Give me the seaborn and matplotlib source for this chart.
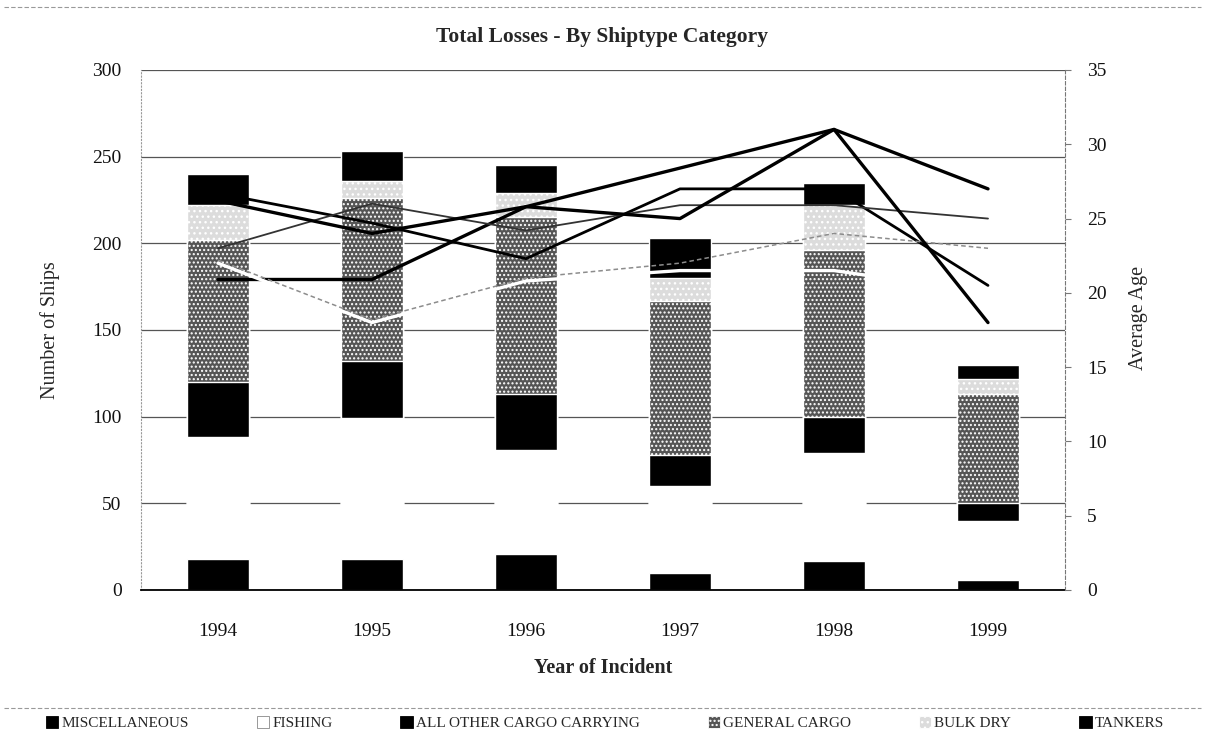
import numpy as np
import matplotlib
matplotlib.use("Agg")
import matplotlib.pyplot as plt
from matplotlib.patches import Patch
from matplotlib.lines import Line2D
import seaborn as sns

# ---------------- data ----------------
years = ["1994", "1995", "1996", "1997", "1998", "1999"]
categories = ["MISCELLANEOUS", "FISHING", "ALL OTHER CARGO CARRYING",
              "GENERAL CARGO", "BULK DRY", "TANKERS"]

# number of ships lost (stacked, bottom -> top)
misc = [18, 18, 21, 10, 17, 6]
fishing = [70, 81, 60, 50, 62, 34]
other_cargo = [32, 33, 32, 18, 21, 10]
general_cargo = [82, 94, 102, 89, 96, 63]
bulk_dry = [20, 10, 14, 13, 26, 9]
tankers = [18, 17, 16, 23, 13, 8]

# average age (right axis)
age_misc = [20.9, 20.9, 25.8, 28.4, 31.0, 27.0]
age_fishing = [22.0, 18.0, 20.8, 21.5, 21.5, 20.0]
age_other = [26.7, 24.7, 22.3, 27.0, 27.0, 20.5]
age_general = [23.0, 26.0, 24.2, 25.9, 25.9, 25.0]
age_bulk = [22.2, 18.2, 21.0, 22.0, 24.0, 23.0]
age_tankers = [26.2, 24.0, 25.8, 25.0, 31.0, 18.0]

left_ticks = [0, 50, 100, 150, 200, 250, 300]
right_ticks = [0, 5, 10, 15, 20, 25, 30, 35]

# ---------------- styles ----------------
layers = [misc, fishing, other_cargo, general_cargo, bulk_dry, tankers]
face = ["#000000", "#ffffff", "#000000", "#555555", "#dcdcdc", "#000000"]
hatch = [None, None, None, "....", "...", None]

ages = [age_misc, age_fishing, age_other, age_general, age_bulk, age_tankers]
line_color = ["#000000", "#ffffff", "#000000", "#333333", "#8c8c8c", "#000000"]
line_width = [2.4, 2.4, 2.0, 1.3, 1.1, 2.4]
line_style = ["-", "-", "-", "-", (0, (3, 2)), "-"]

sns.set_theme(style="white")
plt.rcParams["font.family"] = ["Liberation Serif", "DejaVu Serif"]
plt.rcParams["hatch.linewidth"] = 1.0

W, H = 1205, 740
fig = plt.figure(figsize=(W / 100, H / 100), dpi=100)
ax = fig.add_axes([141 / W, 1 - 590 / H, (1065 - 141) / W, 520 / H])

cum = np.cumsum(np.array(layers, dtype=float), axis=0)
for i in range(len(layers) - 1, -1, -1):
    sns.barplot(x=years, y=cum[i], color=face[i], saturation=1, width=0.40,
                edgecolor="white", linewidth=1.0, hatch=hatch[i],
                ax=ax, zorder=2 + (len(layers) - i) * 0.01)

ax.set_xlim(-0.5, len(years) - 0.5)
ax.set_ylim(0, 300)
ax.set_yticks(left_ticks)
ax.set_axisbelow(True)
ax.yaxis.grid(True, color="#555555", linewidth=0.9)
ax.xaxis.grid(False)
ax.set_xlabel("")
ax.set_ylabel("")
ax.tick_params(axis="y", length=0, pad=14, labelsize=14, colors="#111111")
ax.tick_params(axis="x", length=0, pad=24, labelsize=14, colors="#111111")
for s in ["top", "right"]:
    ax.spines[s].set_visible(False)
ax.spines["left"].set_color("#999999")
ax.spines["left"].set_linestyle((0, (1, 2)))
ax.spines["left"].set_linewidth(0.8)
ax.spines["bottom"].set_color("#000000")
ax.spines["bottom"].set_linewidth(1.3)

# right axis with average age lines
ax2 = ax.twinx()
xpos = np.arange(len(years))
for i in range(len(ages)):
    sns.lineplot(x=xpos, y=ages[i], ax=ax2, color=line_color[i],
                 linewidth=line_width[i], linestyle=line_style[i], legend=False)
ax2.set_ylim(0, 35)
ax2.set_yticks(right_ticks)
ax2.set_xlim(-0.5, len(years) - 0.5)
ax2.set_ylabel("")
ax2.tick_params(axis="y", length=4, width=0.8, color="#777777", pad=12,
                labelsize=14, labelcolor="#111111", right=True)
for s in ["top", "left", "bottom"]:
    ax2.spines[s].set_visible(False)
ax2.spines["right"].set_color("#777777")
ax2.spines["right"].set_linestyle((0, (3, 2)))
ax2.spines["right"].set_linewidth(0.8)

# texts
fig.text(0.5, 1 - 37 / H, "Total Losses - By Shiptype Category",
         ha="center", va="center", fontsize=15.5, fontweight="bold")
fig.text(603 / W, 1 - 668 / H, "Year of Incident", ha="center", va="center",
         fontsize=14.5, fontweight="bold")
fig.text(50 / W, 1 - 330 / H, "Number of Ships", ha="center", va="center",
         rotation=90, fontsize=14.5)
fig.text(1138 / W, 1 - 318 / H, "Average Age", ha="center", va="center",
         rotation=90, fontsize=14.5)

# legend
handles = [Patch(facecolor=face[i], edgecolor="#888888" if i == 1 else
                 ("white" if hatch[i] else face[i]), hatch=hatch[i], linewidth=0.6)
           for i in range(len(categories))]
fig.legend(handles, categories, loc="center",
           bbox_to_anchor=(40 / W, 1 - 736 / H, 1130 / W, 26 / H), mode="expand",
           ncol=6, frameon=False, fontsize=11, handlelength=0.8,
           handleheight=0.8, handletextpad=0.2, borderaxespad=0)

# chart border lines (top and above legend)
for yy in [7, 708]:
    fig.add_artist(Line2D([0.003, 0.997], [1 - yy / H] * 2, transform=fig.transFigure,
                          color="#999999", linewidth=0.8, linestyle=(0, (4, 2))))

fig.savefig("out.png", dpi=100)
